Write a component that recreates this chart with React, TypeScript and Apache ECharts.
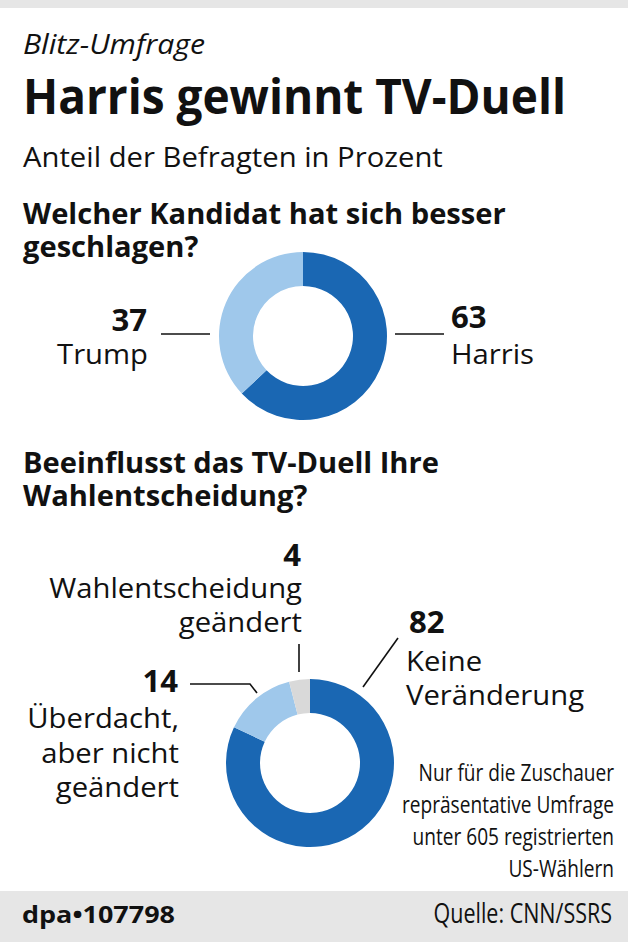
import React, { useEffect, useRef } from "react";
import * as echarts from "echarts";

// ---------- data ----------
const q1Labels = ["Harris", "Trump"];
const q1Values = [63, 37];
const q2Labels = ["Keine Veränderung", "Überdacht, aber nicht geändert", "Wahlentscheidung geändert"];
const q2Values = [82, 14, 4];

const q1LabelLines = [["Harris"], ["Trump"]];
const q2LabelLines = [["Keine", "Veränderung"], ["Überdacht,", "aber nicht", "geändert"], ["Wahlentscheidung", "geändert"]];

const kicker = "Blitz-Umfrage";
const title = "Harris gewinnt TV-Duell";
const subtitle = "Anteil der Befragten in Prozent";
const q1Question = ["Welcher Kandidat hat sich besser", "geschlagen?"];
const q2Question = ["Beeinflusst das TV-Duell Ihre", "Wahlentscheidung?"];
const noteLines = ["Nur für die Zuschauer", "repräsentative Umfrage", "unter 605 registrierten", "US-Wählern"];
const sourceText = "Quelle: CNN/SSRS";
const creditText = "dpa\u2022107798";

// ---------- styles ----------
const DARK = "#1a67b3";
const LIGHT = "#9fc8eb";
const GREY = "#d9d9d9";
const BAND = "#e6e6e6";
const INK = "#111111";
const q1Colors = [DARK, LIGHT];
const q2Colors = [DARK, LIGHT, GREY];
const FAMILY = '"Open Sans", "Noto Sans", sans-serif';
const CREDIT_FAMILY = '"Open Sans", "Noto Sans", sans-serif';

let measureCtx: CanvasRenderingContext2D | null = null;
function mw(text: string, size: number, weight = "normal", style = "normal", family = FAMILY) {
  if (!measureCtx) measureCtx = document.createElement("canvas").getContext("2d");
  if (!measureCtx) return text.length * size * 0.5;
  measureCtx.font = `${style} ${weight} ${size}px ${family}`;
  return measureCtx.measureText(text).width;
}

type TOpt = { w?: string; it?: boolean; al?: "left" | "right" | "center"; sx?: number; fam?: string; fill?: string };
function T(text: string, x: number, base: number, size: number, o: TOpt = {}) {
  const al = o.al ?? "left";
  return {
    type: "text",
    x,
    y: base - 0.39 * size,
    scaleX: o.sx ?? 1,
    silent: true,
    style: {
      text,
      fontSize: size,
      fontFamily: o.fam ?? FAMILY,
      fontWeight: o.w ?? "normal",
      fontStyle: o.it ? "italic" : "normal",
      fill: o.fill ?? INK,
      align: al,
      verticalAlign: "middle",
      textAlign: al,
      textVerticalAlign: "middle",
    },
  };
}

function L(x1: number, y1: number, x2: number, y2: number) {
  return { type: "line", silent: true, shape: { x1, y1, x2, y2 }, style: { stroke: INK, lineWidth: 1.6 } };
}

export default function App() {
  const ref = useRef<HTMLDivElement>(null);

  useEffect(() => {
    document.body.style.margin = "0";
    document.body.style.background = "#ffffff";
    if (!ref.current) return;
    const chart = echarts.init(ref.current, undefined, { renderer: "svg" });

    const sxTitle = 543 / mw(title, 49, "bold");
    const sxItalic = 182 / mw(kicker, 28, "normal", "italic");
    const sxReg = 420 / mw(subtitle, 27);
    const sxBold = 483 / mw(q1Question[0], 29, "bold");
    const sxCond = 212 / mw(noteLines[1], 24);
    const sxCredit = 153 / mw(creditText, 23, "bold", "normal", CREDIT_FAMILY);

    const NUM = 31;
    const LAB = 27;

    const graphics: any[] = [
      { type: "rect", silent: true, z: -10, shape: { x: 0, y: 0, width: 628, height: 8 }, style: { fill: BAND } },
      { type: "rect", silent: true, z: -10, shape: { x: 0, y: 891, width: 628, height: 51 }, style: { fill: BAND } },

      T(kicker, 23, 54, 28, { it: true, sx: sxItalic }),
      T(title, 23, 114, 49, { w: "bold", sx: sxTitle }),
      T(subtitle, 23, 167, 27, { sx: sxReg }),
      T(q1Question[0], 23, 224, 29, { w: "bold", sx: sxBold }),
      T(q1Question[1], 23, 257, 29, { w: "bold", sx: sxBold }),
      T(q2Question[0], 23, 473, 29, { w: "bold", sx: sxBold }),
      T(q2Question[1], 23, 506, 29, { w: "bold", sx: sxBold }),

      // donut 1 labels
      T(String(q1Values[1]), 147, 331, NUM, { w: "bold", al: "right", sx: sxBold }),
      T(q1LabelLines[1][0], 148, 364, LAB, { al: "right", sx: sxReg }),
      L(161, 334, 210, 334),
      T(String(q1Values[0]), 451, 328, NUM, { w: "bold", sx: sxBold }),
      T(q1LabelLines[0][0], 451, 364, LAB, { sx: sxReg }),
      L(395, 334, 444, 334),

      // donut 2 labels
      T(String(q2Values[2]), 301, 566, NUM, { w: "bold", al: "right", sx: sxBold }),
      T(q2LabelLines[2][0], 302, 598, LAB, { al: "right", sx: sxReg }),
      T(q2LabelLines[2][1], 302, 632, LAB, { al: "right", sx: sxReg }),
      L(299, 644, 299, 672),

      T(String(q2Values[0]), 409, 633, NUM, { w: "bold", sx: sxBold }),
      T(q2LabelLines[0][0], 406, 671, LAB, { sx: sxReg }),
      T(q2LabelLines[0][1], 406, 705, LAB, { sx: sxReg }),
      L(398, 638, 363, 687),

      T(String(q2Values[1]), 178, 692, NUM, { w: "bold", al: "right", sx: sxBold }),
      T(q2LabelLines[1][0], 179, 728, LAB, { al: "right", sx: sxReg }),
      T(q2LabelLines[1][1], 179, 763, LAB, { al: "right", sx: sxReg }),
      T(q2LabelLines[1][2], 179, 797, LAB, { al: "right", sx: sxReg }),
      {
        type: "polyline",
        silent: true,
        shape: { points: [[190, 684], [250, 684], [257, 693]] },
        style: { stroke: INK, lineWidth: 1.6, fill: "none" },
      },

      // note
      ...noteLines.map((s, i) => T(s, 614, 781 + i * 32, 24, { al: "right", sx: sxCond })),

      // footer
      T(creditText, 22, 923, 23, { w: "bold", fam: CREDIT_FAMILY, sx: sxCredit }),
      T(sourceText, 612, 923, 27, { al: "right", sx: sxCond }),
    ];

    const pieCommon = {
      type: "pie",
      radius: [50, 84],
      startAngle: 90,
      clockwise: true,
      silent: true,
      label: { show: false },
      labelLine: { show: false },
      emphasis: { disabled: true },
    };

    chart.setOption({
      animation: false,
      backgroundColor: "#ffffff",
      series: [
        {
          ...pieCommon,
          name: q1Question.join(" "),
          center: [303, 336],
          data: q1Values.map((v, i) => ({ value: v, name: q1Labels[i], itemStyle: { color: q1Colors[i] } })),
        },
        {
          ...pieCommon,
          name: q2Question.join(" "),
          center: [310, 763],
          data: q2Values.map((v, i) => ({ value: v, name: q2Labels[i], itemStyle: { color: q2Colors[i] } })),
        },
      ],
      graphic: { elements: graphics },
    });

    return () => {
      chart.dispose();
    };
  }, []);

  return <div ref={ref} style={{ width: 628, height: 942 }} />;
}
